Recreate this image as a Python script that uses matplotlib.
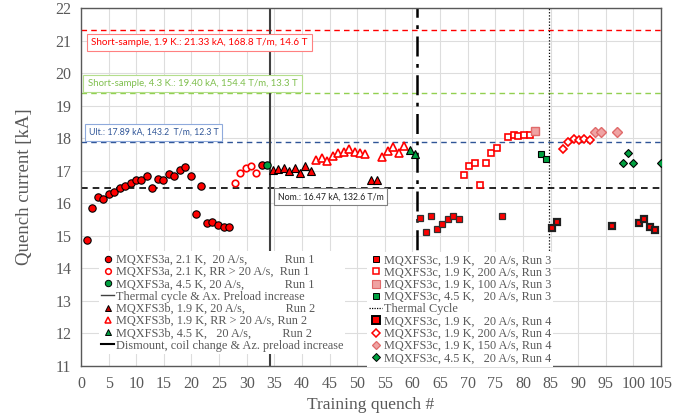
import matplotlib
matplotlib.use("Agg")
import matplotlib.pyplot as plt
from matplotlib.lines import Line2D

# ---------------- data (x) ----------------
# Run 1 (MQXFS3a)
r1_x = [1.0, 2.0, 3.0, 4.0, 5.0, 6.0, 7.0, 8.0, 9.0, 9.9, 10.9, 11.9, 12.9, 13.9,
        14.9, 15.9, 16.9, 17.9, 18.9, 19.9, 20.8, 21.8, 22.8, 23.8, 24.8, 25.8,
        26.8, 32.7]
r1_y = [14.87, 15.84, 16.18, 16.13, 16.28, 16.34, 16.46, 16.53, 16.61, 16.73,
        16.73, 16.85, 16.46, 16.75, 16.72, 16.91, 16.83, 17.02, 17.10, 16.83,
        15.68, 16.54, 15.38, 15.43, 15.34, 15.28, 15.27, 17.18]
r1rr_x = [27.8, 28.8, 29.8, 30.7, 31.7]
r1rr_y = [16.63, 16.93, 17.09, 17.13, 16.93]
r1g_x = [33.7]
r1g_y = [17.19]

# Run 2 (MQXFS3b)
r2_x = [34.7, 35.7, 36.7, 37.7, 38.7, 39.7, 40.6, 41.6, 52.5, 53.5]
r2_y = [17.01, 17.05, 17.07, 17.00, 17.09, 16.94, 17.13, 17.00, 16.70, 16.72]
r2rr_x = [42.6, 43.6, 44.6, 45.6, 46.6, 47.6, 48.6, 49.6, 50.5, 51.5,
          54.5, 55.5, 56.5, 57.5, 58.5]
r2rr_y = [17.34, 17.38, 17.29, 17.44, 17.53, 17.59, 17.67, 17.59, 17.54, 17.51,
          17.42, 17.62, 17.74, 17.54, 17.75]
r2g_x = [59.5, 60.4]
r2g_y = [17.65, 17.52]

# Run 3 (MQXFS3c)
r3_x = [61.4, 62.4, 63.4, 64.4, 65.4, 66.4, 67.4, 68.4, 76.3]
r3_y = [15.55, 15.13, 15.62, 15.22, 15.35, 15.52, 15.62, 15.52, 15.62]
r3o_x = [69.3, 70.3, 71.3, 72.3, 73.3, 74.3, 75.3, 77.3, 78.3, 79.2, 80.2, 81.2]
r3o_y = [16.88, 17.15, 17.25, 16.55, 17.25, 17.56, 17.69, 18.05, 18.10, 18.06, 18.10, 18.10]
r3p_x = [82.2]
r3p_y = [18.21]
r3g_x = [83.2, 84.2]
r3g_y = [17.52, 17.36]

# Run 4 (MQXFS3c)
r4_x = [85.2, 86.2, 96.1, 101.0, 102.0, 103.0, 104.0]
r4_y = [15.24, 15.43, 15.31, 15.38, 15.52, 15.28, 15.18]
r4o_x = [87.2, 88.2, 89.2, 90.1, 91.1, 92.1]
r4o_y = [17.66, 17.88, 17.98, 17.95, 17.96, 17.94]
r4p_x = [93.1, 94.1, 97.1]
r4p_y = [18.19, 18.19, 18.20]
r4g_x = [98.1, 99.1, 100.0, 105.0]
r4g_y = [17.25, 17.56, 17.25, 17.25]

# reference levels and event lines
ss19 = 21.33
ss43 = 19.40
ult = 17.89
nom = 16.47
tc_ax = 34.2
dismount = 60.9
tc = 84.8

ss19_txt = "Short-sample, 1.9 K.: 21.33 kA, 168.8 T/m, 14.6 T"
ss43_txt = "Short-sample, 4.3 K.: 19.40 kA, 154.4 T/m, 13.3 T"
ult_txt = "Ult.: 17.89 kA, 143.2  T/m, 12.3 T"
nom_txt = "Nom.: 16.47 kA, 132.6 T/m"

left_labels = [
    "MQXFS3a, 2.1 K,  20 A/s,            Run 1",
    "MQXFS3a, 2.1 K, RR > 20 A/s,  Run 1",
    "MQXFS3a, 4.5 K, 20 A/s,             Run 1",
    "Thermal cycle & Ax. Preload increase",
    "MQXFS3b, 1.9 K, 20 A/s,             Run 2",
    "MQXFS3b, 1.9 K, RR > 20 A/s, Run 2",
    "MQXFS3b, 4.5 K,   20 A/s,          Run 2",
    "Dismount, coil change & Az. preload increase",
]
right_labels = [
    "MQXFS3c, 1.9 K,   20 A/s, Run 3",
    "MQXFS3c, 1.9 K, 200 A/s, Run 3",
    "MQXFS3c, 1.9 K, 100 A/s, Run 3",
    "MQXFS3c, 4.5 K,   20 A/s, Run 3",
    "Thermal Cycle",
    "MQXFS3c, 1.9 K,   20 A/s, Run 4",
    "MQXFS3c, 1.9 K, 200 A/s, Run 4",
    "MQXFS3c, 1.9 K, 150 A/s, Run 4",
    "MQXFS3c, 4.5 K,   20 A/s, Run 4",
]

# ---------------- style ----------------
RED = "#FF0000"
GREEN = "#00A040"
PINK = "#EFA3A3"
PINKE = "#E06A6A"
GRAY = "#595959"
SERIF = "Liberation Serif"
SANS = "Lato"

fig = plt.figure(figsize=(6.89, 4.15), dpi=100)
ax = fig.add_axes([81 / 689, 1 - 366 / 415, 580 / 689, 358 / 415])
ax.set_xlim(0, 105)
ax.set_ylim(11, 22)
ax.set_xticks(range(0, 106, 5))
ax.set_yticks(range(11, 23))
ax.grid(True, color="#DDDDDD", lw=0.8, zorder=0)
ax.set_axisbelow(True)
for s in ax.spines.values():
    s.set_color("#595959")
    s.set_linewidth(1.0)
ax.tick_params(length=0, pad=7, labelcolor=GRAY, labelsize=11.5)
for lab in ax.get_xticklabels() + ax.get_yticklabels():
    lab.set_fontfamily(SERIF)
ax.set_xlabel("Training quench #", fontfamily=SERIF, fontsize=12.5, color=GRAY, labelpad=4)
ax.set_ylabel("Quench current [kA]", fontfamily=SERIF, fontsize=13.5, color=GRAY, labelpad=16)

# horizontal reference lines
ax.axhline(ss19, color=RED, ls=(0, (4, 3)), lw=1.0, zorder=2)
ax.axhline(ss43, color="#92D050", ls=(0, (4, 3)), lw=1.0, zorder=2)
ax.axhline(ult, color="#2F5597", ls=(0, (4, 3)), lw=1.0, zorder=2)
ax.axhline(nom, color="black", ls=(0, (4, 3)), lw=1.2, zorder=2)

# vertical event lines
ax.axvline(tc_ax, color="#404040", lw=1.5, zorder=2)
ax.axvline(dismount, color="black", lw=1.8, ls=(0, (8, 3, 1.5, 3)), zorder=2)
ax.axvline(tc, color="black", lw=0.9, ls=(0, (1, 1.5)), zorder=2)

# annotation boxes
def box(x, y, txt, tc_, ec, fs):
    ax.text(x, y, txt, fontsize=fs, fontfamily=SANS, color=tc_, ha="left", va="center",
            bbox=dict(boxstyle="square,pad=0.45", fc="white", ec=ec, lw=0.8), zorder=4)

box(1.9, 20.94, ss19_txt, RED, "#FF8080", 7.1)
box(1.2, 19.68, ss43_txt, "#7FBF4D", "#B4DE8C", 6.95)
box(1.4, 18.17, ult_txt, "#2F5597", "#8FAADC", 6.3)
box(35.6, 16.20, nom_txt, "#202020", "#808080", 6.3)

kw = dict(ls="none", zorder=5)
ax.plot(r1_x, r1_y, marker="o", ms=5.3, mfc=RED, mec="black", mew=0.8, **kw)
ax.plot(r1rr_x, r1rr_y, marker="o", ms=4.7, mfc="white", mec=RED, mew=1.2, **kw)
ax.plot(r1g_x, r1g_y, marker="o", ms=5.3, mfc=GREEN, mec="black", mew=0.8, **kw)
ax.plot(r2_x, r2_y, marker="^", ms=5.6, mfc=RED, mec="black", mew=0.8, **kw)
ax.plot(r2rr_x, r2rr_y, marker="^", ms=5.6, mfc="white", mec=RED, mew=1.2, **kw)
ax.plot(r2g_x, r2g_y, marker="^", ms=5.6, mfc=GREEN, mec="black", mew=0.8, **kw)
ax.plot(r3_x, r3_y, marker="s", ms=4.8, mfc=RED, mec="#303030", mew=0.9, **kw)
ax.plot(r3o_x, r3o_y, marker="s", ms=4.6, mfc="white", mec=RED, mew=1.2, **kw)
ax.plot(r3p_x, r3p_y, marker="s", ms=5.6, mfc=PINK, mec=PINKE, mew=1.0, **kw)
ax.plot(r3g_x, r3g_y, marker="s", ms=4.8, mfc=GREEN, mec="black", mew=0.8, **kw)
ax.plot(r4_x, r4_y, marker="s", ms=5.0, mfc=RED, mec="#202020", mew=1.6, **kw)
ax.plot(r4o_x, r4o_y, marker="D", ms=4.3, mfc="white", mec=RED, mew=1.2, **kw)
ax.plot(r4p_x, r4p_y, marker="D", ms=4.6, mfc=PINK, mec=PINKE, mew=1.0, **kw)
ax.plot(r4g_x, r4g_y, marker="D", ms=4.5, mfc=GREEN, mec="black", mew=0.8, **kw)

# legends
lms = 4.6
left_handles = [
    Line2D([], [], ls="none", marker="o", ms=lms, mfc=RED, mec="black", mew=0.7),
    Line2D([], [], ls="none", marker="o", ms=lms - 0.5, mfc="white", mec=RED, mew=1.1),
    Line2D([], [], ls="none", marker="o", ms=lms, mfc=GREEN, mec="black", mew=0.7),
    Line2D([], [], color="#404040", lw=1.0),
    Line2D([], [], ls="none", marker="^", ms=lms, mfc="#C00000", mec="black", mew=0.7),
    Line2D([], [], ls="none", marker="^", ms=lms, mfc="white", mec=RED, mew=1.1),
    Line2D([], [], ls="none", marker="^", ms=lms, mfc=GREEN, mec="black", mew=0.7),
    Line2D([], [], color="black", lw=1.5),
]
right_handles = [
    Line2D([], [], ls="none", marker="s", ms=lms, mfc=RED, mec="black", mew=0.7),
    Line2D([], [], ls="none", marker="s", ms=lms, mfc="white", mec=RED, mew=1.1),
    Line2D([], [], ls="none", marker="s", ms=lms + 1, mfc=PINK, mec=PINKE, mew=0.8),
    Line2D([], [], ls="none", marker="s", ms=lms, mfc=GREEN, mec="black", mew=0.7),
    Line2D([], [], color="black", lw=0.9, ls=(0, (1, 1))),
    Line2D([], [], ls="none", marker="s", ms=lms + 0.5, mfc=RED, mec="black", mew=1.4),
    Line2D([], [], ls="none", marker="D", ms=lms - 0.8, mfc="white", mec=RED, mew=1.1),
    Line2D([], [], ls="none", marker="D", ms=lms - 0.8, mfc=PINK, mec=PINKE, mew=0.9),
    Line2D([], [], ls="none", marker="D", ms=lms - 0.8, mfc=GREEN, mec="black", mew=0.7),
]
lp = dict(prop={"family": SERIF, "size": 8.8}, frameon=True, fancybox=False,
          edgecolor="none", facecolor="white", framealpha=1.0,
          labelspacing=0.02, handlelength=1.0, handletextpad=0.15,
          borderpad=0.2, borderaxespad=0)
leg1 = ax.legend(left_handles, left_labels, loc="upper left",
                 bbox_to_anchor=((99 - 81) / 580, (366 - 251.5) / 358), **lp)
for t in leg1.get_texts():
    t.set_color(GRAY)
leg1.set_zorder(6)
ax.add_artist(leg1)
leg2 = ax.legend(right_handles, right_labels, loc="upper left",
                 bbox_to_anchor=((367 - 81) / 580, (366 - 252) / 358), **lp)
for t in leg2.get_texts():
    t.set_color(GRAY)
leg2.set_zorder(6)

fig.savefig("out.png", dpi=100)
